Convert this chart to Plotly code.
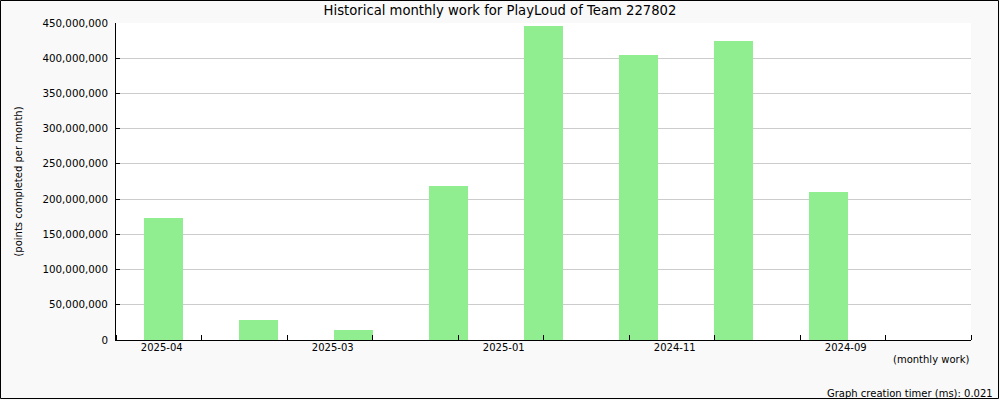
import plotly.graph_objects as go

# Data
bar_months = ["2025-04", "2025-03", "2025-02", "2025-01", "2024-12",
              "2024-11", "2024-10", "2024-09", "2024-08"]
points = [173000000, 28500000, 14200000, 218600000, 445800000,
          404600000, 424500000, 210000000, 0]
tick_labels = ["2025-04", "2025-03", "2025-01", "2024-11", "2024-09"]
label_slots = 10  # the label axis is divided into 10 slots

W, H = 1000, 400
ML, MR, MT, MB = 116, 29, 23, 60
PW, PH = W - ML - MR, H - MT - MB

FONT = "DejaVu Sans"
GREEN = "#90EE90"

fig = go.Figure()
fig.add_trace(go.Bar(
    x=bar_months, y=points, marker=dict(color=GREEN, line=dict(width=0)),
    width=0.41, xaxis="x", yaxis="y", showlegend=False, hoverinfo="x+y",
))
# invisible trace to carry the label axis
fig.add_trace(go.Scatter(x=[0, label_slots], y=[0, 0], xaxis="x2", yaxis="y",
                         mode="markers", marker=dict(opacity=0), showlegend=False,
                         hoverinfo="skip"))

fig.update_layout(
    width=W, height=H,
    margin=dict(l=ML, r=MR, t=MT, b=MB),
    paper_bgcolor="#f9f9f9",
    plot_bgcolor="white",
    font=dict(family=FONT, size=10, color="black"),
    bargap=0,
    title=dict(text="Historical monthly work for PlayLoud of Team 227802",
               x=0.5, xref="container", xanchor="center",
               y=1 - 10 / H, yref="container", yanchor="middle",
               font=dict(family=FONT, size=13.2, color="black")),
    xaxis=dict(type="category", range=[-0.5, len(bar_months) - 0.5],
               showticklabels=False, ticks="", showgrid=False,
               showline=True, linecolor="black", linewidth=1, zeroline=False,
               fixedrange=True),
    xaxis2=dict(overlaying="x", anchor="y", side="bottom",
                range=[0, label_slots], showgrid=False, zeroline=False,
                tickmode="array",
                tickvals=[0.5 + 2 * i for i in range(len(tick_labels))],
                ticktext=tick_labels, ticks="", ticklabelshift=3,
                tickfont=dict(family=FONT, size=10, color="black"),
                minor=dict(ticks="inside", tick0=1, dtick=1, ticklen=5,
                           tickcolor="black", tickwidth=1, showgrid=False),
                showline=False),
    yaxis=dict(range=[0, 450000000], dtick=50000000, tickformat=",",
               showgrid=True, gridcolor="#cccccc", gridwidth=1,
               ticks="inside", ticklen=4, tickcolor="black",
               showline=True, linecolor="black", linewidth=1,
               zeroline=False, ticklabelstandoff=5,
               tickfont=dict(family=FONT, size=10.3, color="black"),
               title=dict(text="(points completed per month)",
                          font=dict(family=FONT, size=10, color="black"),
                          standoff=17)),
)

fig.add_annotation(text="(monthly work)", xref="paper", yref="paper",
                   x=1, y=-(359 - 340) / PH, xanchor="right", yanchor="middle",
                   showarrow=False, font=dict(family=FONT, size=10, color="black"))
fig.add_annotation(text="Graph creation timer (ms): 0.021", xref="paper", yref="paper",
                   x=(995 - ML) / PW, y=-(393 - 340) / PH, xanchor="right",
                   yanchor="middle", showarrow=False,
                   font=dict(family=FONT, size=10, color="black"))
# outer frame
fig.add_shape(type="rect", xref="paper", yref="paper",
              x0=-(ML - 0.5) / PW, x1=(W - ML - 1.5) / PW,
              y0=-(MB - 1.5) / PH, y1=1 + (MT - 0.5) / PH,
              line=dict(color="black", width=1), fillcolor="rgba(0,0,0,0)",
              layer="above")

fig.write_html("out.html",
               config={"displayModeBar": False},
               post_script="document.body.style.margin='0';"
                           "document.body.style.overflow='hidden';")
